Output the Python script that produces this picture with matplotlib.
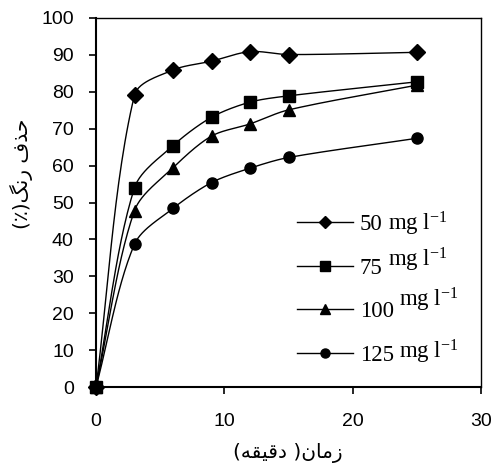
import numpy as np
import matplotlib
matplotlib.use("Agg")
import matplotlib.pyplot as plt
from matplotlib.lines import Line2D

# Dye removal (%) versus contact time (min) for four initial dye concentrations
time_min = [0, 3, 6, 9, 12, 15, 25]
removal_50 = [0, 79.1, 85.9, 88.3, 90.9, 90.1, 90.7]
removal_75 = [0, 54.0, 65.4, 73.1, 77.2, 78.9, 82.7]
removal_100 = [0, 47.8, 59.4, 68.0, 71.3, 75.1, 81.8]
removal_125 = [0, 38.7, 48.4, 55.4, 59.3, 62.2, 67.4]
dose_labels = ["50", "75", "100", "125"]
unit_label = r"mg l$^{-1}$"
x_ticks = [0, 10, 20, 30]
y_ticks = [0, 10, 20, 30, 40, 50, 60, 70, 80, 90, 100]

series = [removal_50, removal_75, removal_100, removal_125]
markers = ["D", "s", "^", "o"]
marker_sizes = [8.5, 8.5, 8.5, 8.0]
unit_raise_px = [0, 7, 11, 2]

# Persian axis titles written in shaped (presentation) forms, visual order
xlabel_text = "(\uFEEA\uFED8\uFEF4\uFED7\uFEA9 )\uFEE5\uFE8E\uFEE3\uFEAF"
ylabel_text = "(\u066A)\uFB93\uFEE7\uFEAD \uFED1\uFEAC\uFEA3"

plt.rcParams["mathtext.fontset"] = "custom"
plt.rcParams["mathtext.rm"] = "Liberation Serif"
plt.rcParams["mathtext.it"] = "Liberation Serif:italic"

W, H = 491, 470
fig = plt.figure(figsize=(W / 100, H / 100), dpi=100)
ax = fig.add_axes([96 / W, 1 - 387 / H, (481 - 96) / W, (387 - 18) / H])
ax.set_xlim(0, 30)
ax.set_ylim(0, 100)


def smooth_curve(ax, xs, ys, k=0.3, steps=30):
    """Smoothed line through the points, built in display space.

    Tangent directions follow the neighbouring points; handle lengths
    scale with each segment's own chord, which keeps overshoot small.
    """
    pts = ax.transData.transform(np.column_stack([xs, ys]))
    n = len(pts)
    out = [pts[0]]
    t = np.linspace(0, 1, steps)[1:, None]

    def direction(i):
        a = pts[i - 1] if i > 0 else pts[i]
        b = pts[i + 1] if i + 1 < n else pts[i]
        d = b - a
        return d / np.hypot(*d)

    for i in range(n - 1):
        p1, p2 = pts[i], pts[i + 1]
        chord = np.hypot(*(p2 - p1))
        c1 = p1 + direction(i) * chord * k
        c2 = p2 - direction(i + 1) * chord * k
        seg = ((1 - t) ** 3) * p1 + 3 * ((1 - t) ** 2) * t * c1 \
            + 3 * (1 - t) * (t ** 2) * c2 + (t ** 3) * p2
        out.extend(seg)
    return ax.transData.inverted().transform(np.array(out))


for ys, m, ms in zip(series, markers, marker_sizes):
    curve = smooth_curve(ax, time_min, ys)
    ax.plot(curve[:, 0], curve[:, 1], color="black", lw=1.0, zorder=2,
            clip_on=False)
    ax.plot(time_min, ys, linestyle="none", marker=m, markersize=ms,
            color="black", zorder=3, clip_on=False)

ax.set_xticks(x_ticks)
ax.set_yticks(y_ticks)
ax.tick_params(direction="out", length=5, width=1.2, colors="black",
               labelsize=14)
ax.tick_params(axis="y", pad=11)
ax.tick_params(axis="x", pad=14)
for lab in ax.get_xticklabels() + ax.get_yticklabels():
    lab.set_family("Liberation Sans")
for side in ["left", "bottom"]:
    ax.spines[side].set_linewidth(1.5)
for side in ["top", "right"]:
    ax.spines[side].set_linewidth(1.0)

fig.text(288 / W, 1 - 453 / H, xlabel_text, ha="center", va="center",
         fontsize=14.5, family=["DejaVu Sans", "Noto Sans"])
fig.text(21 / W, 1 - 174 / H, ylabel_text, ha="center", va="center",
         rotation=90, fontsize=14.5, family=["DejaVu Sans", "Noto Sans"])

handles = [Line2D([], [], color="black", lw=1.0, marker=m, markersize=6.5)
           for m in markers]
leg = ax.legend(handles, dose_labels, loc="upper left",
                bbox_to_anchor=(0.522, 0.468), frameon=False,
                prop={"family": "Liberation Serif", "size": 16.5},
                handlelength=2.45, handletextpad=0.3, labelspacing=0.98,
                borderpad=0, borderaxespad=0)

fig.canvas.draw()
renderer = fig.canvas.get_renderer()
for txt, rise in zip(leg.get_texts(), unit_raise_px):
    bb = txt.get_window_extent(renderer)
    descent = renderer.get_text_width_height_descent(
        "lp", txt.get_fontproperties(), ismath=False)[2]
    fig.text((bb.x1 + 5) / W, (bb.y0 + descent + rise) / H, unit_label,
             ha="left", va="baseline", fontsize=16.5,
             family="Liberation Serif")

fig.savefig("out.png", dpi=100)
